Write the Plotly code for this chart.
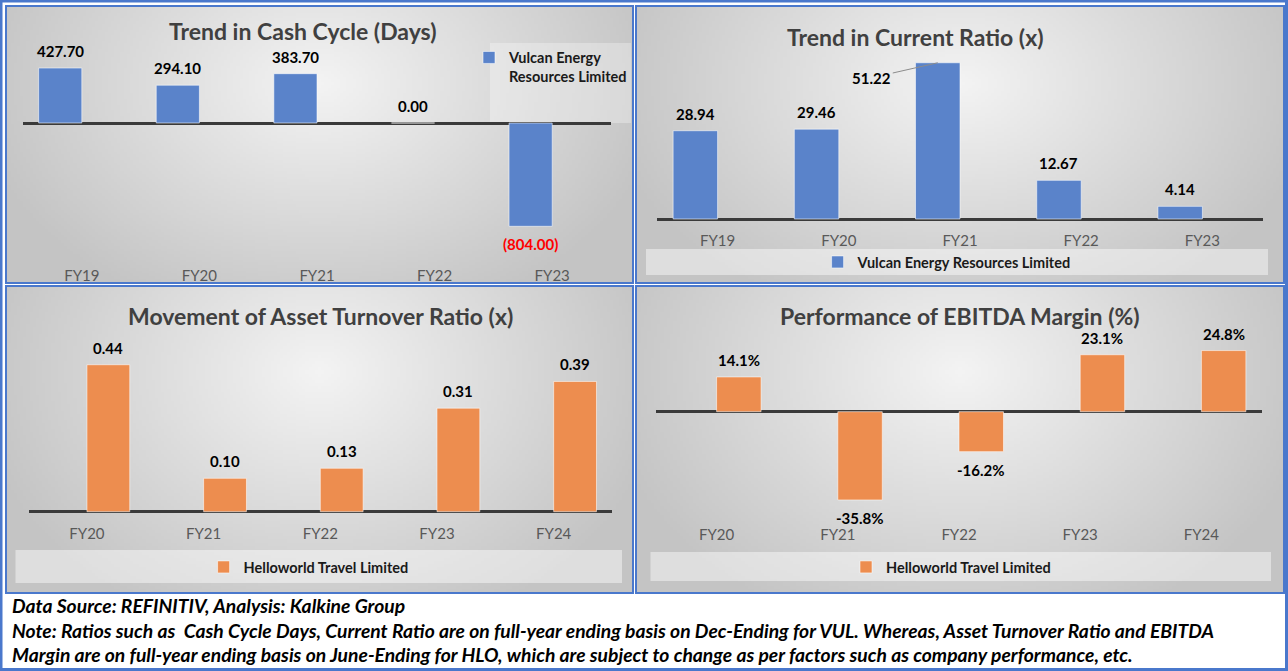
import base64, struct, zlib
import numpy as np
import plotly.graph_objects as go

# ---------------- data ----------------
categories_vul = ["FY19", "FY20", "FY21", "FY22", "FY23"]
cash_cycle_days = [427.70, 294.10, 383.70, 0.00, -804.00]
current_ratio = [28.94, 29.46, 51.22, 12.67, 4.14]

categories_hlo = ["FY20", "FY21", "FY22", "FY23", "FY24"]
asset_turnover = [0.44, 0.10, 0.13, 0.31, 0.39]
ebitda_margin = [14.1, -35.8, -16.2, 23.1, 24.8]

series_vul = "Vulcan Energy Resources Limited"
series_hlo = "Helloworld Travel Limited"

titles = ["Trend in Cash Cycle (Days)", "Trend in Current Ratio (x)",
          "Movement of Asset Turnover Ratio (x)", "Performance of EBITDA Margin (%)"]

note_lines = [
    "Data Source: REFINITIV, Analysis: Kalkine Group",
    "Note: Ratios such as  Cash Cycle Days, Current Ratio are on full-year ending basis on Dec-Ending for VUL. Whereas, Asset Turnover Ratio and EBITDA",
    "Margin are on full-year ending basis on June-Ending for HLO, which are subject to change as per factors such as company performance, etc.",
]

# ---------------- helpers ----------------
W, H = 1288, 671
def PX(x): return x / W
def PY(y): return 1 - y / H

FONT = "Lato"
BLUE = "#5A83CA"
ORANGE = "#ED8D4F"
BORDER = "#4A78CC"


def gradient_png(w=200, h=100, cx=0.5, cy=0.28, rx=0.56, ry=0.9, light=244, dark=196):
    ys, xs = np.mgrid[0:h, 0:w]
    u = (xs + 0.5) / w
    v = (ys + 0.5) / h
    d = np.sqrt(((u - cx) / rx) ** 2 + ((v - cy) / ry) ** 2)
    d = np.clip(d, 0, 1)
    val = (light - (light - dark) * d).astype(np.uint8)
    raw = b"".join(b"\x00" + val[r].tobytes() for r in range(h))

    def chunk(t, data):
        c = struct.pack(">I", len(data)) + t + data
        return c + struct.pack(">I", zlib.crc32(t + data) & 0xFFFFFFFF)

    png = (b"\x89PNG\r\n\x1a\n"
           + chunk(b"IHDR", struct.pack(">IIBBBBB", w, h, 8, 0, 0, 0, 0))
           + chunk(b"IDAT", zlib.compress(raw, 9))
           + chunk(b"IEND", b""))
    return "data:image/png;base64," + base64.b64encode(png).decode()


GRAD = gradient_png()

panels = [(6, 6, 633, 283), (636, 6, 1284, 283), (6, 286, 633, 593), (636, 286, 1284, 593)]

# subplot plot-area geometry (px): x0, x1, ytop, ybottom
areas = [(23, 611, 45, 265), (657, 1263, 50, 230), (28.6, 612, 330, 523), (656, 1262, 330, 524)]
# zero-line position (px) and px per unit
zeros = [123, 219, 511.7, 411.7]
scales = [0.1285, 3.05, 334.0, 2.465]

BAR_W = 0.367
offsets = [-BAR_W, -BAR_W, 0.0, 0.0]

fig = go.Figure()

specs = [
    (categories_vul, cash_cycle_days, series_vul, BLUE, "legend"),
    (categories_vul, current_ratio, series_vul, BLUE, "legend2"),
    (categories_hlo, asset_turnover, series_hlo, ORANGE, "legend3"),
    (categories_hlo, ebitda_margin, series_hlo, ORANGE, "legend4"),
]

layout_axes = {}
annotations = []
for i, (cats, vals, name, color, leg) in enumerate(specs):
    xa = "x" if i == 0 else f"x{i+1}"
    ya = "y" if i == 0 else f"y{i+1}"
    nm = "Vulcan Energy<br>Resources Limited" if i == 0 else name
    fig.add_trace(go.Bar(
        x=cats, y=vals, name=nm, xaxis=xa, yaxis=ya, legend=leg,
        marker=dict(color=color, line=dict(color="rgba(255,255,255,0.55)", width=1)),
        width=BAR_W, offset=offsets[i], showlegend=True, hoverinfo="skip",
    ))
    x0, x1, yt, yb = areas[i]
    z, s = zeros[i], scales[i]
    ymax = (z - yt) / s
    ymin = -(yb - z) / s
    key = "" if i == 0 else str(i + 1)
    layout_axes["xaxis" + key] = dict(
        domain=[PX(x0), PX(x1)], anchor=ya, type="category", range=[-0.5, 4.5],
        showgrid=False, showline=False, zeroline=False, ticks="",
        tickfont=dict(family=FONT, size=15, color="#595959"), fixedrange=True,
    )
    layout_axes["yaxis" + key] = dict(
        domain=[PY(yb), PY(yt)], anchor=xa, range=[ymin, ymax],
        showgrid=False, showline=False, showticklabels=False, ticks="",
        zeroline=True, zerolinecolor="#3A3A3A", zerolinewidth=3, fixedrange=True,
    )
    # data labels
    for j, v in enumerate(vals):
        xc = j + offsets[i] + BAR_W / 2
        if i == 0:
            txt = f"({abs(v):.2f})" if v < 0 else f"{v:.2f}"
        elif i == 3:
            txt = f"{v:.1f}%"
        else:
            txt = f"{v:.2f}"
        col = "#FF0000" if (i == 0 and v < 0) else "#000000"
        if i == 1 and j == 2:
            annotations.append(dict(
                x=xc, y=v, xref=xa, yref=ya, text=txt, showarrow=True, arrowhead=0,
                arrowwidth=1, arrowcolor="#8C8C8C", ax=-66, ay=15, standoff=0,
                font=dict(family=FONT, size=15, color=col, weight="bold"),
            ))
            continue
        annotations.append(dict(
            x=xc, y=v, xref=xa, yref=ya, text=txt, showarrow=False,
            yanchor="middle", yshift=(17 if v >= 0 else -18),
            font=dict(family=FONT, size=15, color=col, weight="bold"),
        ))

# titles
title_pos = [(303, 31), (915, 37), (320, 316), (959.5, 316)]
for t, (tx, ty) in zip(titles, title_pos):
    annotations.append(dict(
        x=PX(tx), y=PY(ty), xref="paper", yref="paper", text=t, showarrow=False,
        xanchor="center", yanchor="middle",
        font=dict(family=FONT, size=23, color="#404040", weight="bold"),
    ))

# notes
for k, line in enumerate(note_lines):
    annotations.append(dict(
        x=PX(10), y=PY([605, 630, 654][k]), xref="paper", yref="paper", text=line,
        showarrow=False, xanchor="left", yanchor="middle",
        font=dict(family=FONT, size=19.3, color="#000000", weight="bold", style="italic"),
    ))

shapes = []
images = []
for (a, b, c, d) in panels:
    images.append(dict(source=GRAD, xref="paper", yref="paper", x=PX(a), y=PY(b),
                       sizex=PX(c) - PX(a), sizey=PY(b) - PY(d), sizing="stretch",
                       xanchor="left", yanchor="top", layer="below"))
    shapes.append(dict(type="rect", xref="paper", yref="paper", x0=PX(a), x1=PX(c),
                       y0=PY(d), y1=PY(b), line=dict(color=BORDER, width=2),
                       fillcolor="rgba(0,0,0,0)", layer="above"))

# legend boxes
for (a, b, c, d), fc in [((490, 43, 631, 123), "rgba(255,255,255,0.30)"),
                         ((646, 249, 1268, 275), "rgba(255,255,255,0.45)"),
                         ((15.5, 550, 622, 583), "rgba(255,255,255,0.45)"),
                         ((650.5, 552, 1271, 581), "rgba(255,255,255,0.45)")]:
    shapes.append(dict(type="rect", xref="paper", yref="paper", x0=PX(a), x1=PX(c),
                       y0=PY(d), y1=PY(b), line=dict(width=0), fillcolor=fc, layer="below"))

# outer border
shapes.append(dict(type="rect", xref="paper", yref="paper", x0=PX(1), x1=PX(1286.5),
                   y0=PY(669.5), y1=PY(1), line=dict(color=BORDER, width=3),
                   fillcolor="rgba(0,0,0,0)", layer="above"))

leg_font = dict(family=FONT, size=14.5, color="#1A1A1A", weight="bold")
legends = {
    "legend": dict(x=PX(469), y=PY(67), xanchor="left", yanchor="middle", valign="top"),
    "legend2": dict(x=PX(817.6), y=PY(262), xanchor="left", yanchor="middle"),
    "legend3": dict(x=PX(203.6), y=PY(567), xanchor="left", yanchor="middle"),
    "legend4": dict(x=PX(846), y=PY(567), xanchor="left", yanchor="middle"),
}
for k, v in legends.items():
    v.update(bgcolor="rgba(0,0,0,0)", borderwidth=0, font=leg_font, itemwidth=30,
             itemclick=False, itemdoubleclick=False)

fig.update_layout(
    width=W, height=H, margin=dict(l=0, r=0, t=0, b=0),
    paper_bgcolor="white", plot_bgcolor="rgba(0,0,0,0)",
    annotations=annotations, shapes=shapes, images=images,
    barmode="overlay", hovermode=False,
    **layout_axes, **legends,
)

fig.write_html("out.html", config={"displayModeBar": False, "staticPlot": True},
               post_script="document.body.style.margin='0';document.body.style.overflow='hidden';")
